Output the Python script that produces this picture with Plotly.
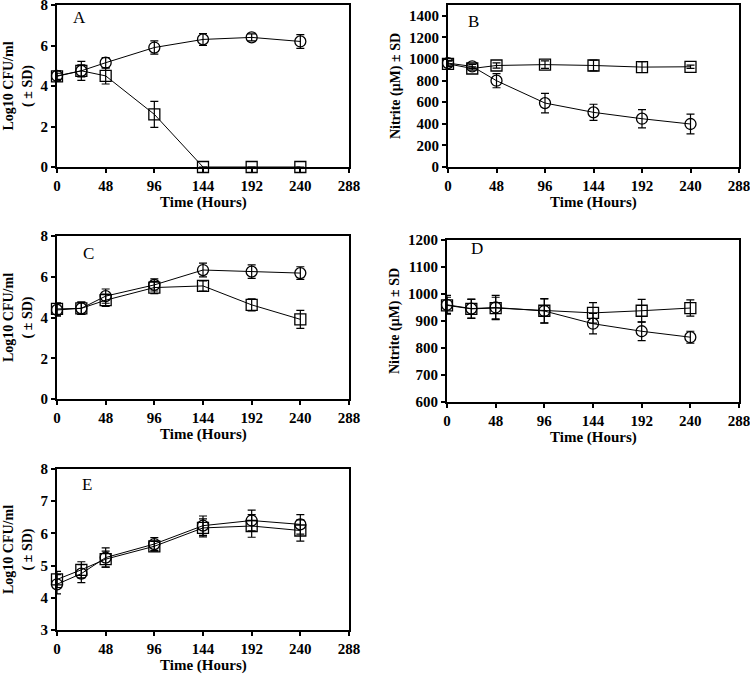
import plotly.graph_objects as go

hours = [0, 24, 48, 96, 144, 192, 240]
x_ticks = [0, 48, 96, 144, 192, 240, 288]

# Panel A (Log10 CFU/ml)
a_circle = [4.5, 4.75, 5.15, 5.9, 6.3, 6.4, 6.2]
a_circle_sd = [0.25, 0.3, 0.25, 0.33, 0.29, 0.17, 0.34]
a_square = [4.48, 4.75, 4.5, 2.6, 0.0, 0.0, 0.0]
a_square_sd = [0.15, 0.47, 0.4, 0.64, 0.0, 0.0, 0.0]

# Panel B (Nitrite µM)
b_circle = [962, 931, 799, 592, 506, 447, 398]
b_circle_sd = [25, 20, 65, 90, 75, 85, 92]
b_square = [955, 912, 940, 948, 940, 925, 928]
b_square_sd = [25, 15, 25, 35, 50, 50, 15]

# Panel C (Log10 CFU/ml)
c_circle = [4.37, 4.45, 5.05, 5.6, 6.33, 6.25, 6.18]
c_circle_sd = [0.3, 0.3, 0.35, 0.3, 0.34, 0.33, 0.31]
c_square = [4.42, 4.45, 4.85, 5.47, 5.55, 4.62, 3.91]
c_square_sd = [0.3, 0.3, 0.3, 0.3, 0.25, 0.3, 0.44]

# Panel D (Nitrite µM)
d_circle = [960, 946, 950, 937, 890, 862, 840]
d_circle_sd = [35, 35, 45, 45, 38, 35, 22]
d_square = [958, 945, 948, 938, 930, 938, 948]
d_square_sd = [30, 35, 40, 45, 38, 42, 30]

# Panel E (Log10 CFU/ml)
e_circle = [4.42, 4.75, 5.25, 5.67, 6.24, 6.4, 6.28]
e_circle_sd = [0.3, 0.28, 0.3, 0.2, 0.3, 0.32, 0.3]
e_square = [4.57, 4.87, 5.2, 5.6, 6.17, 6.23, 6.09]
e_square_sd = [0.25, 0.25, 0.25, 0.15, 0.28, 0.35, 0.33]

W, H = 750, 674
FONT = "Liberation Serif"

panels = [
    ("A", a_circle, a_circle_sd, a_square, a_square_sd, [0, 8], [0, 2, 4, 6, 8],
     "Log10 CFU/ml<br>( ± SD)", (57, 349, 5, 167), (79, 17)),
    ("B", b_circle, b_circle_sd, b_square, b_square_sd, [0, 1500], list(range(0, 1401, 200)),
     "Nitrite (μM) ± SD", (448, 739, 5, 167), (473, 21)),
    ("C", c_circle, c_circle_sd, c_square, c_square_sd, [0, 8], [0, 2, 4, 6, 8],
     "Log10 CFU/ml<br>( ± SD)", (57, 349, 236, 399), (88, 253)),
    ("D", d_circle, d_circle_sd, d_square, d_square_sd, [600, 1200], list(range(600, 1201, 100)),
     "Nitrite (μM) ± SD", (447, 739, 240, 402), (477, 248)),
    ("E", e_circle, e_circle_sd, e_square, e_square_sd, [3, 8], [3, 4, 5, 6, 7, 8],
     "Log10 CFU/ml<br>( ± SD)", (57, 349, 469, 630), (87, 484)),
]

fig = go.Figure()
layout = dict(
    width=W, height=H, margin=dict(l=0, r=0, t=0, b=0, autoexpand=False),
    paper_bgcolor="white", plot_bgcolor="white", showlegend=False,
    font=dict(family=FONT, color="black"),
)
annotations = []

for i, (lab, cy, csd, sy, ssd, yr, yt, ytitle, box, lpos) in enumerate(panels):
    n = i + 1
    xa = "x" if n == 1 else f"x{n}"
    ya = "y" if n == 1 else f"y{n}"
    for yvals, sd, sym in ((sy, ssd, "square-open"), (cy, csd, "circle-open")):
        fig.add_trace(go.Scatter(
            x=hours, y=yvals, xaxis=xa, yaxis=ya, mode="lines+markers",
            line=dict(color="black", width=1),
            marker=dict(symbol=sym, size=11, color="black", line=dict(width=1.3, color="black")),
            error_y=dict(type="data", array=sd, visible=True, color="black", thickness=1.2, width=4),
            cliponaxis=False, hoverinfo="skip",
        ))
    l, r, t, b = box
    xkey = "xaxis" if n == 1 else f"xaxis{n}"
    ykey = "yaxis" if n == 1 else f"yaxis{n}"
    layout[xkey] = dict(
        domain=[l / W, r / W], anchor=ya, range=[0, 288], tickvals=x_ticks,
        ticktext=[f"<b>{v}</b>" for v in x_ticks], automargin=False,
        ticklabeloverflow="allow",
        showgrid=False, zeroline=False, showline=True, linewidth=2, linecolor="black",
        mirror=True, ticks="outside", ticklen=4, tickwidth=2, tickcolor="black",
        tickfont=dict(family=FONT, size=15, color="black"),
    )
    layout[ykey] = dict(
        domain=[1 - b / H, 1 - t / H], anchor=xa, range=yr, tickvals=yt,
        ticktext=[f"<b>{v}</b>" for v in yt], automargin=False,
        ticklabeloverflow="allow",
        showgrid=False, zeroline=False, showline=True, linewidth=2, linecolor="black",
        mirror=True, ticks="outside", ticklen=4, tickwidth=2, tickcolor="black",
        tickfont=dict(family=FONT, size=15, color="black"),
        title=dict(text=f"<b>{ytitle}</b>", font=dict(family=FONT, size=14, color="black"), standoff=5),
    )
    annotations.append(dict(
        text=lab, x=lpos[0] / W, y=1 - lpos[1] / H, xref="paper", yref="paper",
        showarrow=False, font=dict(family=FONT, size=17, color="black"),
        xanchor="center", yanchor="middle",
    ))
    # x-axis title, placed below the tick labels
    annotations.append(dict(
        text="<b>Time (Hours)</b>", x=(l + r) / 2 / W, y=1 - (b + 35) / H,
        xref="paper", yref="paper", showarrow=False,
        font=dict(family=FONT, size=15, color="black"),
        xanchor="center", yanchor="middle",
    ))

layout["annotations"] = annotations
fig.update_layout(**layout)
fig.write_html("out.html", config={"displayModeBar": False},
               post_script="document.body.style.margin='0';")
